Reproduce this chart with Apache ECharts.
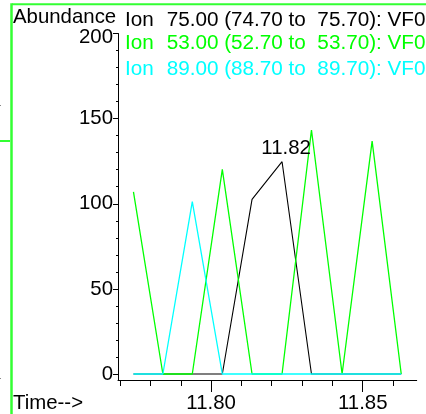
<!DOCTYPE html>
<html>
<head>
<meta charset="utf-8">
<script src="https://cdn.jsdelivr.net/npm/echarts@6/dist/echarts.min.js"></script>
<style>
html,body{margin:0;padding:0;background:#fff;}
#c{width:426px;height:414px;}
</style>
</head>
<body>
<div id="c"></div>
<script>
// ---- data ----
var times = [11.7744, 11.7841, 11.7938, 11.8037, 11.8135, 11.8234, 11.8331, 11.8432, 11.8531, 11.8627];
var ion75 = [0, 0, 0, 0, 102.6, 124.7, 0, 0, 0, 0];
var ion53 = [107, 0, 0, 120.2, 0, 0, 143.3, 0, 136.8, 0];
var ion89 = [0, 0, 101.2, 0, 0, 0, 0, 0, 0, 0];
var legendPrefix = 'Ion';
var legendRanges = [
  '75.00 (74.70 to  75.70): VF0',
  '53.00 (52.70 to  53.70): VF0',
  '89.00 (88.70 to  89.70): VF0'
];
var xMajorTicks = [11.80, 11.85];
var xMinorTicks = [11.77, 11.78, 11.79, 11.80, 11.81, 11.82, 11.83, 11.84, 11.85, 11.86];
var yMajorTicks = [0, 50, 100, 150, 200];
var yMinorTicks = [0, 10, 20, 30, 40, 50, 60, 70, 80, 90, 100, 110, 120, 130, 140, 150, 160, 170, 180, 190, 200];
var yTitle = 'Abundance';
var xTitle = 'Time-->';

var FONT = 'Liberation Sans, Arial, sans-serif';
var FS = 20.4;
var LFS = 20.7;
var GREEN = '#00ff00', CYAN = '#00ffff', BLACK = '#000000';
var seriesColors = [BLACK, GREEN, CYAN];

function pairs(arr){ return arr.map(function(v,i){ return [times[i], v]; }); }
var peakIdx = ion75.indexOf(Math.max.apply(null, ion75));

var XMIN = 11.7693, XMAX = 11.8678, YMIN = -3.52, YMAX = 200;

var graphics = [
  {type:'line', shape:{x1:12, y1:4.3, x2:426, y2:4.3}, style:{stroke:'#33ff33', lineWidth:2}},
  {type:'line', shape:{x1:11.5, y1:3.3, x2:11.5, y2:414}, style:{stroke:'#33ff33', lineWidth:2.5}},
  {type:'line', shape:{x1:0, y1:141, x2:10, y2:141}, style:{stroke:'#33ff33', lineWidth:2}},
  {type:'rect', shape:{x:0, y:105, width:1, height:1}, style:{fill:'#888'}},
  {type:'rect', shape:{x:0, y:378, width:1, height:1}, style:{fill:'#888'}},
  {type:'text', left:13, top:7, style:{text:yTitle, font:FS+'px '+FONT, fill:BLACK}},
  {type:'text', left:13, top:393, style:{text:xTitle, font:FS+'px '+FONT, fill:BLACK}}
];
var legendTops = [10, 33, 58.5];
legendRanges.forEach(function(t, i){
  graphics.push({type:'text', left:125, top:legendTops[i], style:{text:legendPrefix, font:LFS+'px '+FONT, fill:seriesColors[i]}});
  graphics.push({type:'text', left:166.7, top:legendTops[i], style:{text:t, font:LFS+'px '+FONT, fill:seriesColors[i]}});
});

var chart = echarts.init(document.getElementById('c'), null, {renderer:'canvas'});
chart.setOption({
  animation:false,
  backgroundColor:'#ffffff',
  grid:{left:118, right:9.3, top:33.5, bottom:34, containLabel:false},
  xAxis:[
    {type:'value', min:XMIN, max:XMAX, position:'bottom',
     axisLine:{show:true, onZero:false, lineStyle:{color:BLACK, width:1}},
     axisTick:{show:true, length:6, customValues:xMinorTicks, lineStyle:{color:BLACK}},
     axisLabel:{show:false}, splitLine:{show:false}},
    {type:'value', min:XMIN, max:XMAX, position:'bottom',
     axisLine:{show:false, onZero:false},
     axisTick:{show:true, length:12, customValues:xMajorTicks, lineStyle:{color:BLACK}},
     axisLabel:{show:true, customValues:xMajorTicks, margin:13, color:BLACK, fontSize:FS, fontFamily:FONT,
       formatter:function(v){ return v.toFixed(2); }},
     splitLine:{show:false}}
  ],
  yAxis:[
    {type:'value', min:YMIN, max:YMAX, position:'left',
     axisLine:{show:true, onZero:false, lineStyle:{color:BLACK, width:1}},
     axisTick:{show:true, length:2, customValues:yMinorTicks, lineStyle:{color:BLACK}},
     axisLabel:{show:false}, splitLine:{show:false}},
    {type:'value', min:YMIN, max:YMAX, position:'left',
     axisLine:{show:false, onZero:false},
     axisTick:{show:true, length:5, customValues:yMajorTicks, lineStyle:{color:BLACK}},
     axisLabel:{show:true, customValues:yMajorTicks, margin:5, color:BLACK, fontSize:FS, fontFamily:FONT,
       formatter:function(v){ return v === 200 ? '{s|200}' : String(v); },
       rich:{s:{padding:[8,0,0,0], fontSize:FS, fontFamily:FONT, color:BLACK}}},
     splitLine:{show:false}}
  ],
  series:[
    {type:'line', name:'75', xAxisIndex:0, yAxisIndex:0, data:pairs(ion75), symbol:'none',
     lineStyle:{color:BLACK, width:1.1}, z:2,
     markPoint:{
       symbol:'circle', symbolSize:2, itemStyle:{color:'rgba(0,0,0,0)'},
       label:{show:true, position:'top', distance:2, offset:[4,0], color:BLACK, fontSize:FS, fontFamily:FONT,
         formatter:function(p){ return p.data.coord[0].toFixed(2); }},
       data:[{coord:[times[peakIdx], ion75[peakIdx]]}]
     }},
    {type:'line', name:'53', xAxisIndex:0, yAxisIndex:0, data:pairs(ion53), symbol:'none',
     lineStyle:{color:GREEN, width:1.3}, z:3},
    {type:'line', name:'89', xAxisIndex:0, yAxisIndex:0, data:pairs(ion89), symbol:'none',
     lineStyle:{color:CYAN, width:1.3}, z:4}
  ],
  graphic:graphics
});
</script>
</body>
</html>
